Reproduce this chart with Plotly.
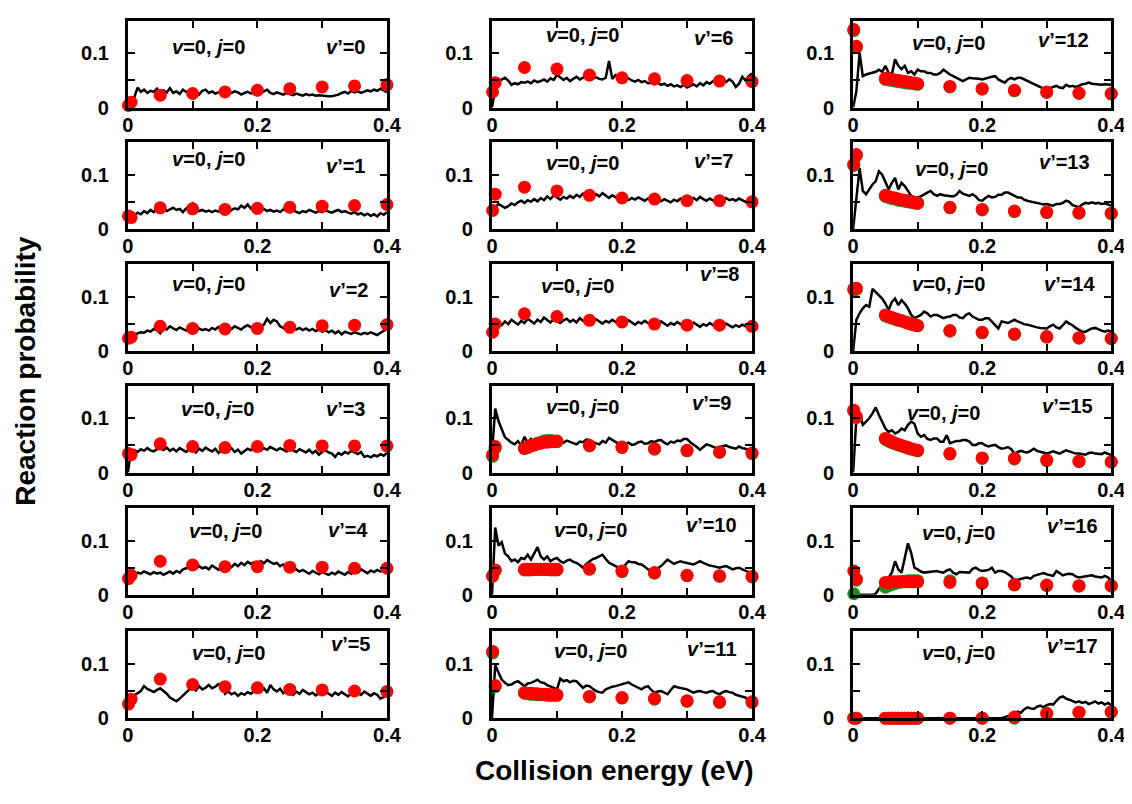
import plotly.graph_objects as go
from plotly.subplots import make_subplots

# collision energies (eV) of the dot series
E_DOT_SPARSE = [0.001, 0.005, 0.05, 0.1, 0.15, 0.2, 0.25, 0.3, 0.35, 0.4]
E_DOT_DENSE = [0.001, 0.005, 0.05, 0.055, 0.06, 0.065, 0.07, 0.075, 0.08, 0.085,
               0.09, 0.095, 0.1, 0.15, 0.2, 0.25, 0.3, 0.35, 0.4]

# black curves, reaction probability x 1000, on an even 0..0.4 eV grid
LINE_V0 = [5, 14, 19, 37, 29, 33, 27, 31, 29, 35,
           26, 32, 28, 36, 27, 30, 25, 33, 29, 31,
           27, 29, 24, 31, 33, 27, 30, 26, 28, 31,
           25, 29, 27, 30, 28, 24, 27, 29, 26, 28,
           23, 27, 30, 33, 27, 25, 28, 26, 24, 27,
           25, 23, 26, 24, 22, 25, 23, 24, 22, 23,
           22, 21, 21, 21, 22, 24, 27, 29, 26, 31,
           28, 30, 27, 29, 32, 30, 33, 31, 35, 32, 28]
LINE_V1 = [24, 28, 25, 30, 27, 33, 29, 35, 31, 37,
           34, 38, 33, 36, 39, 35, 37, 31, 38, 42,
           47, 36, 33, 35, 32, 34, 31, 34, 32, 36,
           33, 30, 35, 38, 36, 43, 39, 45, 37, 41,
           36, 34, 37, 33, 35, 32, 34, 31, 36, 33,
           31, 34, 32, 29, 33, 31, 35, 32, 30, 33,
           31, 34, 32, 30, 33, 35, 31, 33, 30, 28,
           31, 27, 29, 25, 28, 24, 27, 23, 29, 26, 31]
LINE_V2 = [20, 26, 29, 33, 35, 34, 38, 36, 41, 39,
           33, 43, 40, 46, 42, 39, 44, 41, 38, 43,
           40, 37, 42, 39, 41, 38, 43, 40, 45, 42,
           39, 44, 41, 46, 43, 40, 45, 48, 44, 47,
           42, 45, 49, 60, 52, 58, 55, 46, 43, 48,
           41, 44, 40, 43, 39, 42, 38, 41, 37, 40,
           36, 39, 35, 38, 33, 37, 31, 36, 34, 32,
           35, 33, 31, 34, 32, 35, 33, 30, 34, 37, 41]
LINE_V3 = [0, 40, 42, 38, 43, 40, 45, 41, 39, 43,
           44, 42, 46, 40, 44, 39, 45, 42, 38, 43,
           41, 37, 44, 40, 46, 42, 39, 44, 36, 41,
           43, 40, 45, 38, 42, 35, 40, 44, 41, 46,
           43, 40, 45, 42, 47, 44, 41, 45, 42, 39,
           44, 41, 38, 43, 40, 37, 42, 36, 40, 33,
           38, 41, 37, 35, 29, 36, 33, 38, 35, 40,
           37, 34, 38, 29, 31, 28, 32, 30, 34, 31, 36]
LINE_V4 = [28, 33, 38, 41, 39, 43, 40, 38, 42, 39,
           41, 37, 40, 43, 39, 44, 41, 47, 49, 52,
           50, 48, 53, 49, 51, 47, 54, 50, 46, 52,
           49, 55, 51, 57, 53, 59, 55, 61, 57, 60,
           56, 62, 58, 64, 60, 57, 59, 53, 56, 50,
           48, 45, 47, 43, 46, 42, 39, 44, 41, 38,
           42, 40, 37, 41, 38, 43, 40, 37, 42, 39,
           44, 41, 47, 43, 40, 45, 42, 46, 43, 48, 50]
LINE_V5 = [28, 38, 42, 46, 50, 59, 54, 51, 48, 52,
           55, 50, 45, 38, 34, 31, 36, 42, 47, 53,
           57, 51, 59, 53, 56, 61, 55, 58, 63, 60,
           45, 49, 44, 47, 41, 46, 43, 48, 45, 50,
           52, 48, 55, 47, 61, 53, 49, 54, 46, 51,
           47, 43, 49, 45, 52, 48, 44, 47, 42, 46,
           44, 49, 45, 41, 47, 43, 48, 44, 40, 46,
           42, 47, 43, 49, 45, 41, 46, 43, 36, 39, 45]
LINE_V6 = [0, 34, 49, 52, 55, 50, 42, 45, 43, 47,
           46, 48, 45, 50, 47, 49, 52, 48, 54, 51,
           60, 56, 51, 55, 49, 53, 57, 52, 55, 58,
           57, 54, 56, 53, 52, 55, 86, 53, 60, 56,
           55, 52, 54, 50, 48, 51, 47, 49, 45, 46,
           43, 46, 42, 44, 40, 43, 39, 41, 38, 42,
           37, 40, 43, 39, 45, 41, 47, 44, 49, 51,
           53, 49, 47, 52, 48, 38, 44, 57, 50, 58, 63]
LINE_V7 = [30, 40, 46, 43, 39, 42, 47, 44, 49, 52,
           48, 53, 50, 55, 51, 57, 53, 60, 55, 62,
           58, 54, 59, 56, 61, 57, 63, 59, 65, 60,
           62, 58, 64, 60, 66, 61, 57, 62, 58, 55,
           59, 56, 53, 57, 54, 58, 55, 52, 56, 53,
           57, 54, 51, 55, 52, 49, 54, 51, 56, 53,
           50, 54, 57, 53, 59, 55, 52, 56, 53, 49,
           54, 51, 57, 53, 55, 52, 56, 53, 50, 54, 51]
LINE_V8 = [30, 45, 52, 48, 55, 50, 58, 53, 49, 56,
           52, 60, 55, 51, 58, 54, 62, 57, 53, 59,
           55, 52, 57, 60, 54, 58, 53, 61, 56, 52,
           57, 54, 59, 55, 51, 56, 53, 58, 54, 50,
           55, 52, 57, 53, 49, 54, 51, 56, 52, 48,
           53, 50, 55, 51, 47, 52, 49, 54, 50, 46,
           51, 48, 53, 49, 45, 50, 47, 52, 48, 44,
           49, 46, 51, 47, 44, 48, 45, 49, 46, 43, 45]
LINE_V9 = [35, 118, 95, 80, 65, 60, 55, 52, 58, 50,
           66, 55, 62, 55, 60, 53, 58, 62, 56, 60,
           63, 58, 55, 59, 57, 54, 52, 57, 56, 61,
           60, 56, 54, 52, 58, 55, 64, 60, 57, 53,
           50, 53, 55, 51, 52, 56, 57, 53, 54, 58,
           56, 59, 60, 55, 52, 57, 55, 59, 58, 62,
           62, 56, 52, 47, 42, 47, 52, 50, 48, 45,
           47, 49, 50, 47, 46, 44, 48, 45, 44, 42, 40]
LINE_V10 = [0, 124, 91, 97, 76, 71, 62, 65, 60, 68,
            66, 74, 65, 76, 88, 71, 65, 71, 62, 66,
            68, 62, 59, 63, 65, 61, 59, 55, 50, 57,
            62, 66, 68, 71, 74, 66, 59, 56, 53, 50,
            47, 55, 62, 60, 60, 57, 56, 52, 47, 46,
            44, 49, 53, 59, 65, 61, 57, 60, 62, 60,
            59, 57, 56, 59, 62, 59, 56, 54, 53, 51,
            50, 52, 53, 50, 47, 49, 50, 47, 44, 42, 41]
LINE_V11 = [0, 98, 84, 71, 65, 61, 62, 66, 68, 63,
            59, 64, 65, 68, 71, 66, 65, 61, 59, 56,
            53, 73, 68, 70, 66, 69, 68, 62, 56, 60,
            59, 54, 50, 48, 47, 53, 56, 58, 59, 61,
            62, 64, 66, 62, 59, 56, 53, 57, 59, 52,
            47, 49, 50, 47, 44, 52, 59, 57, 56, 55,
            53, 50, 47, 49, 50, 48, 47, 49, 50, 46,
            44, 48, 50, 48, 47, 43, 41, 40, 38, 30, 20]
LINE_V12 = [0, 30, 101, 58, 61, 63, 64, 66, 70, 66,
            77, 64, 61, 89, 77, 71, 77, 64, 67, 61,
            70, 67, 67, 64, 64, 61, 61, 64, 70, 65,
            61, 58, 55, 52, 49, 52, 55, 54, 54, 53,
            52, 54, 55, 57, 58, 52, 49, 46, 52, 55,
            52, 55, 55, 52, 49, 46, 43, 40, 37, 35,
            34, 36, 37, 40, 37, 36, 42, 39, 40, 38,
            40, 43, 44, 46, 44, 43, 43, 42, 43, 42, 42]
LINE_V13 = [0, 60, 112, 70, 64, 73, 82, 88, 106, 100,
            88, 73, 85, 94, 73, 85, 79, 70, 61, 58,
            58, 60, 64, 67, 70, 64, 61, 64, 62, 61,
            61, 60, 63, 70, 65, 63, 61, 64, 60, 53,
            52, 57, 61, 58, 59, 63, 63, 67, 67, 64,
            61, 58, 58, 54, 52, 50, 49, 48, 46, 45,
            46, 44, 43, 46, 46, 48, 52, 50, 44, 42,
            40, 45, 48, 47, 49, 47, 48, 46, 47, 45, 43]
LINE_V14 = [0, 58, 70, 79, 85, 82, 115, 109, 103, 97,
            88, 76, 91, 97, 85, 94, 88, 79, 67, 61,
            64, 67, 73, 70, 64, 67, 67, 64, 61, 63,
            64, 67, 67, 62, 61, 67, 70, 64, 61, 58,
            58, 61, 61, 55, 48, 42, 55, 53, 52, 55,
            58, 55, 52, 50, 49, 47, 45, 44, 43, 42,
            42, 46, 49, 44, 42, 48, 55, 51, 48, 43,
            39, 36, 36, 39, 42, 43, 40, 38, 36, 38, 36]
LINE_V15 = [0, 100, 109, 88, 94, 100, 109, 120, 106, 94,
            81, 75, 78, 72, 75, 81, 78, 88, 94, 90,
            72, 66, 69, 62, 60, 63, 63, 57, 57, 69,
            54, 56, 58, 58, 60, 60, 57, 51, 51, 54,
            54, 50, 48, 50, 51, 47, 44, 45, 47, 43,
            35, 38, 40, 38, 37, 40, 44, 40, 38, 36,
            35, 37, 39, 37, 35, 38, 41, 39, 37, 35,
            35, 34, 33, 36, 37, 35, 35, 34, 37, 35, 32]
LINE_V16 = [0, 0, 0, 0, 0, 0, 0, 2, 11, 17,
            23, 32, 41, 62, 47, 41, 71, 95, 77, 50,
            47, 43, 41, 42, 42, 44, 44, 42, 41, 45,
            47, 41, 38, 42, 42, 41, 41, 48, 50, 46,
            44, 45, 46, 50, 41, 44, 44, 42, 38, 34,
            26, 28, 29, 31, 32, 30, 35, 37, 38, 40,
            38, 36, 35, 44, 40, 36, 38, 39, 38, 34,
            32, 33, 35, 35, 36, 34, 33, 32, 35, 32, 26]
LINE_V17 = [0, 0, 0, 0, 0, 0, 0, 0, 0, 0,
            0, 0, 0, 0, 0, 0, 0, 0, 0, 0,
            0, 0, 0, 0, 0, 0, 0, 0, 0, 0,
            0, 0, 0, 0, 0, 0, 0, 0, 0, 0,
            0, 0, 0, 0, 0, 0, 0, 2, 4, 6,
            8, 12, 10, 16, 20, 18, 17, 21, 23, 20,
            24, 26, 25, 32, 38, 40, 36, 34, 32, 29,
            31, 28, 30, 26, 28, 31, 27, 29, 25, 28, 24]

# red dots, reaction probability x 1000
RED_V0 = [4, 10, 23, 26, 29, 32, 35, 38, 40, 42]
RED_V1 = [24, 21, 39, 37, 36, 38, 40, 42, 43, 45]
RED_V2 = [24, 26, 46, 42, 41, 42, 44, 47, 48, 49]
RED_V3 = [35, 33, 53, 48, 46, 48, 50, 49, 49, 49]
RED_V4 = [30, 36, 62, 55, 52, 52, 51, 51, 49, 49]
RED_V5 = [26, 35, 72, 62, 58, 56, 53, 52, 50, 49]
RED_V6 = [29, 46, 74, 71, 60, 55, 53, 50, 49, 48]
RED_V7 = [34, 64, 77, 70, 62, 57, 55, 52, 52, 50]
RED_V8 = [35, 50, 69, 64, 57, 54, 50, 48, 48, 46]
RED_V9 = [33, 48, 45, 47, 50, 51, 53, 54, 56, 56, 57, 57, 58, 50, 47, 44, 41, 38, 36]
RED_V10 = [35, 46, 47, 47, 47, 47, 47, 47, 47, 47, 47, 47, 47, 48, 44, 41, 36, 35, 34]
RED_V11 = [123, 60, 47, 46, 46, 45, 45, 44, 44, 44, 43, 43, 43, 40, 38, 36, 32, 30, 30]
RED_V12 = [144, 113, 54, 53, 52, 51, 50, 49, 48, 47, 46, 45, 44, 39, 35, 32, 29, 27, 26]
RED_V13 = [119, 137, 62, 60, 58, 57, 55, 54, 53, 52, 50, 49, 48, 40, 36, 33, 31, 30, 29]
RED_V14 = [115, 116, 67, 64, 62, 60, 58, 56, 54, 52, 50, 49, 47, 38, 35, 32, 27, 25, 24]
RED_V15 = [115, 103, 63, 60, 57, 54, 52, 50, 48, 46, 44, 42, 41, 35, 27, 26, 23, 21, 20]
RED_V16 = [44, 29, 23, 23, 24, 24, 24, 24, 24, 24, 24, 24, 24, 23, 22, 19, 18, 17, 17]
RED_V17 = [0, 0, 0, 0, 0, 0, 0, 0, 0, 0, 0, 0, 0, 0, 0, 2, 9, 11, 12]

# green dots (mostly hidden under the red ones), x 1000
GREEN_V9 = [30, 45, 44, 46, 49, 51, 54, 56, 58, 59, 59, 58, 57, 49, 46, 43, 40, 37, 35]
GREEN_V10 = [34, 45, 46, 46, 46, 47, 47, 47, 47, 47, 46, 46, 46, 47, 43, 40, 35, 34, 33]
GREEN_V11 = [120, 58, 46, 45, 44, 44, 43, 43, 43, 42, 42, 42, 42, 39, 37, 35, 31, 29, 29]
GREEN_V12 = [142, 111, 52, 51, 50, 49, 48, 47, 46, 45, 45, 44, 43, 38, 34, 31, 28, 26, 25]
GREEN_V13 = [117, 135, 60, 58, 56, 55, 53, 52, 51, 50, 49, 48, 47, 39, 35, 32, 30, 29, 28]
GREEN_V14 = [113, 114, 65, 63, 61, 59, 57, 56, 54, 52, 50, 48, 47, 37, 34, 31, 26, 24, 23]
GREEN_V15 = [113, 101, 61, 58, 55, 53, 51, 49, 47, 45, 43, 42, 40, 34, 26, 25, 22, 20, 19]
GREEN_V16 = [2, 27, 14, 17, 19, 21, 23, 24, 25, 26, 26, 26, 26, 26, 21, 18, 17, 16, 16]
GREEN_V17 = [0, 0, 0, 0, 0, 0, 0, 0, 0, 0, 0, 0, 0, 0, 0, 0, 8, 10, 11]

LINES = [LINE_V0, LINE_V1, LINE_V2, LINE_V3, LINE_V4, LINE_V5,
         LINE_V6, LINE_V7, LINE_V8, LINE_V9, LINE_V10, LINE_V11,
         LINE_V12, LINE_V13, LINE_V14, LINE_V15, LINE_V16, LINE_V17]
REDS = [RED_V0, RED_V1, RED_V2, RED_V3, RED_V4, RED_V5,
        RED_V6, RED_V7, RED_V8, RED_V9, RED_V10, RED_V11,
        RED_V12, RED_V13, RED_V14, RED_V15, RED_V16, RED_V17]
GREENS = [None] * 9 + [GREEN_V9, GREEN_V10, GREEN_V11, GREEN_V12, GREEN_V13,
                       GREEN_V14, GREEN_V15, GREEN_V16, GREEN_V17]

# label centres inside each panel (fraction of the panel box)
VJ_POS = [(0.31, 0.70), (0.31, 0.80), (0.31, 0.77), (0.345, 0.73), (0.375, 0.73), (0.39, 0.75),
          (0.35, 0.84), (0.35, 0.76), (0.33, 0.75), (0.35, 0.75), (0.38, 0.75), (0.38, 0.77),
          (0.37, 0.75), (0.38, 0.69), (0.37, 0.77), (0.35, 0.69), (0.41, 0.71), (0.41, 0.75)]
VP_POS = [(0.84, 0.70), (0.84, 0.72), (0.85, 0.71), (0.84, 0.73), (0.85, 0.75), (0.86, 0.85),
          (0.85, 0.80), (0.85, 0.78), (0.875, 0.89), (0.845, 0.80), (0.845, 0.80), (0.845, 0.80),
          (0.815, 0.78), (0.82, 0.77), (0.84, 0.77), (0.83, 0.77), (0.85, 0.79), (0.85, 0.83)]

W, H = 1132, 804
COL_PX = [(116, 380), (487, 752), (855, 1118)]
ROW_TOP_PX = [13, 136, 260, 383, 507, 632]
BOX_H = 88

FONT = "Liberation Sans, Arial, sans-serif"

fig = make_subplots(rows=6, cols=3)

for v, line in enumerate(LINES):
    r, c = v % 6, v // 6
    n = len(line)
    e_line = [0.4 * i / (n - 1) for i in range(n)]
    fig.add_trace(go.Scatter(x=e_line, y=[p / 1000 for p in line], mode="lines",
                             line=dict(color="black", width=2.5), showlegend=False),
                  row=r + 1, col=c + 1)
    red = REDS[v]
    e_dot = E_DOT_SPARSE if len(red) == len(E_DOT_SPARSE) else E_DOT_DENSE
    if GREENS[v] is not None:
        fig.add_trace(go.Scatter(x=e_dot, y=[p / 1000 for p in GREENS[v]], mode="markers",
                                 marker=dict(color="#1e8c1e", size=13), cliponaxis=False,
                                 showlegend=False),
                      row=r + 1, col=c + 1)
    fig.add_trace(go.Scatter(x=e_dot, y=[p / 1000 for p in red], mode="markers",
                             marker=dict(color="#ff0000", size=13), cliponaxis=False,
                             showlegend=False),
                  row=r + 1, col=c + 1)

    x0, x1 = COL_PX[c]
    top = ROW_TOP_PX[r]
    fig.update_xaxes(domain=[x0 / W, x1 / W], row=r + 1, col=c + 1)
    fig.update_yaxes(domain=[1 - (top + BOX_H) / H, 1 - top / H], row=r + 1, col=c + 1)

    k = r * 3 + c + 1
    suffix = "" if k == 1 else str(k)
    label_font = dict(size=20, family=FONT, color="black", weight="bold")
    fig.add_annotation(xref=f"x{suffix} domain", yref=f"y{suffix} domain",
                       x=VJ_POS[v][0], y=VJ_POS[v][1], xanchor="center", yanchor="middle",
                       showarrow=False, text="<i>v</i>=0, <i>j</i>=0", font=label_font)
    fig.add_annotation(xref=f"x{suffix} domain", yref=f"y{suffix} domain",
                       x=VP_POS[v][0], y=VP_POS[v][1], xanchor="center", yanchor="middle",
                       showarrow=False, text=f"<i>v</i>\u2019={v}", font=label_font)

tick_font = dict(size=20, family=FONT, color="black", weight="bold")
fig.update_xaxes(range=[0, 0.4], tickvals=[0, 0.1, 0.2, 0.3, 0.4],
                 ticktext=["0", "", "0.2", "", "0.4"],
                 ticks="inside", ticklen=7, tickwidth=2, tickcolor="black",
                 showline=True, linewidth=3, linecolor="black", mirror="allticks",
                 showgrid=False, zeroline=False, ticklabelstandoff=-3,
                 tickfont=tick_font)
fig.update_yaxes(range=[0, 0.16], tickvals=[0, 0.05, 0.1],
                 ticktext=["0", "", "0.1"],
                 ticks="inside", ticklen=7, tickwidth=2, tickcolor="black",
                 showline=True, linewidth=3, linecolor="black", mirror="allticks",
                 showgrid=False, zeroline=False, ticklabelstandoff=12,
                 tickfont=tick_font)

title_font = dict(size=28, family=FONT, color="black", weight="bold")
fig.add_annotation(xref="paper", yref="paper", x=12 / W, y=1 - 368 / H,
                   xanchor="center", yanchor="middle",
                   text="Reaction probability", textangle=-90, showarrow=False,
                   font=title_font)
fig.add_annotation(xref="paper", yref="paper", x=612 / W, y=1 - 773 / H,
                   xanchor="center", yanchor="middle",
                   text="Collision energy (eV)", showarrow=False,
                   font=title_font)

fig.update_layout(width=W, height=H, margin=dict(l=0, r=0, t=0, b=0),
                  plot_bgcolor="white", paper_bgcolor="white")

fig.write_html("out.html")
